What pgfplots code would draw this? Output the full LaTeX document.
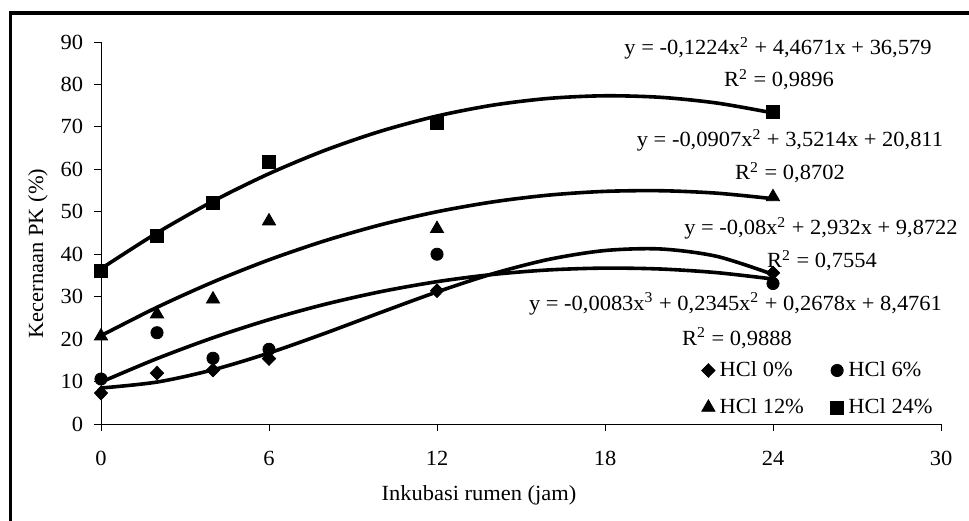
\documentclass[border=0pt]{standalone}
\usepackage{fontspec}
\setmainfont{Liberation Serif}[FakeStretch=1.04]
\usepackage{pgfplots}
\pgfplotsset{compat=1.18}
\newcommand\fsz{\fontsize{10.8}{12.5}\selectfont}
\begin{document}
\begin{tikzpicture}[font=\fsz]
\useasboundingbox (0,0) rectangle (484.5pt,260pt);
\fill[white] (0,0) rectangle (484.5pt,260pt);
\draw[line width=1.6pt] (5.25pt,-5pt) -- (5.25pt,253.5pt) -- (490pt,253.5pt);
\begin{axis}[
  at={(50.5pt,48pt)}, anchor=south west,
  scale only axis, width=420pt, height=191pt,
  xmin=0, xmax=30, ymin=0, ymax=90,
  xtick={0,6,...,30}, ytick={0,10,...,90},
  axis lines*=left, axis line style={line width=0.5pt,-},
  tick align=outside, major tick length=3.5pt,
  tick style={line width=0.5pt,black},
  tick label style={font=\fsz},
  xticklabel style={anchor=base, yshift=-17.35pt},
  yticklabel style={xshift=-1.9pt},
  /pgf/number format/assume math mode=true,
  clip=false,
  legend columns=2,
  legend cell align=left,
  legend image code/.code={\path[draw=none,fill=none] (-3.35pt,-3.35pt) rectangle (3.35pt,3.35pt); \draw[#1] plot coordinates {(0pt,0pt)};},
  legend style={draw=none, fill=none, font=\fsz, inner sep=0pt,
    nodes={inner sep=0pt},
    row sep=9.5pt,
    at={(0.71464,0.16466)}, anchor=north west,
    /tikz/every odd column/.append style={column sep=2.3pt},
    /tikz/every even column/.append style={column sep=13.25pt}},
]
\addplot[forget plot, smooth, line width=1.8pt] coordinates {(0,36.579)(2,45.024)(4,52.489)(6,58.975)(8,64.482)(10,69.010)(12,72.559)(14,75.128)(16,76.718)(18,77.329)(20,76.961)(22,75.614)(24,73.287)};
\addplot[forget plot, smooth, line width=1.8pt] coordinates {(0,20.811)(2,27.491)(4,33.445)(6,38.674)(8,43.178)(10,46.955)(12,50.007)(14,52.333)(16,53.934)(18,54.809)(20,54.959)(22,54.383)(24,53.081)};
\addplot[forget plot, smooth, line width=1.8pt] coordinates {(0,9.872)(2,15.416)(4,20.320)(6,24.584)(8,28.208)(10,31.192)(12,33.536)(14,35.240)(16,36.304)(18,36.728)(20,36.512)(22,35.656)(24,34.160)};
\addplot[forget plot, smooth, line width=1.8pt] coordinates {(0,8.476)(2,9.883)(4,12.768)(6,16.732)(8,21.377)(10,26.304)(12,31.115)(14,35.412)(16,38.796)(18,40.869)(20,41.232)(22,39.487)(24,35.236)};
\addplot[only marks, mark=diamond*, mark size=3.4pt, mark options={xscale=1.3}, black] coordinates {(0,7.3)(2,12.0)(4,12.7)(6,15.4)(12,31.4)(24,35.6)};
\addlegendentry{HCl 0\%}
\addplot[only marks, mark=*, mark size=3.05pt, black] coordinates {(0,10.6)(2,21.5)(4,15.5)(6,17.6)(12,40.0)(24,33.1)};
\addlegendentry{HCl 6\%}
\addplot[only marks, mark=triangle*, mark size=3.8pt, black] coordinates {(0,20.7)(2,25.9)(4,29.4)(6,47.8)(12,46.0)(24,53.5)};
\addlegendentry{HCl 12\%}
\addplot[only marks, mark=square*, mark size=3.25pt, black] coordinates {(0,36.1)(2,44.4)(4,52.2)(6,61.8)(12,70.9)(24,73.5)};
\addlegendentry{HCl 24\%}
\end{axis}
\node[rotate=90, anchor=base] at (21.5pt,133.25pt) {Kecernaan PK (\%)};
\node[anchor=base] at (239.5pt,9.65pt) {Inkubasi rumen (jam)};
\node[anchor=base] at (389pt,232.5pt) {y = -0,1224x\textsuperscript{2} + 4,4671x + 36,579};
\node[anchor=base] at (389.5pt,216.5pt) {R\textsuperscript{2} = 0,9896};
\node[anchor=base] at (395pt,186.5pt) {y = -0,0907x\textsuperscript{2} + 3,5214x + 20,811};
\node[anchor=base] at (395pt,170pt) {R\textsuperscript{2} = 0,8702};
\node[anchor=base] at (410.5pt,142.5pt) {y = -0,08x\textsuperscript{2} + 2,932x + 9,8722};
\node[anchor=base] at (411pt,126pt) {R\textsuperscript{2} = 0,7554};
\node[anchor=base] at (367.75pt,105pt) {y = -0,0083x\textsuperscript{3} + 0,2345x\textsuperscript{2} + 0,2678x + 8,4761};
\node[anchor=base] at (368.5pt,87.5pt) {R\textsuperscript{2} = 0,9888};
\end{tikzpicture}
\end{document}
